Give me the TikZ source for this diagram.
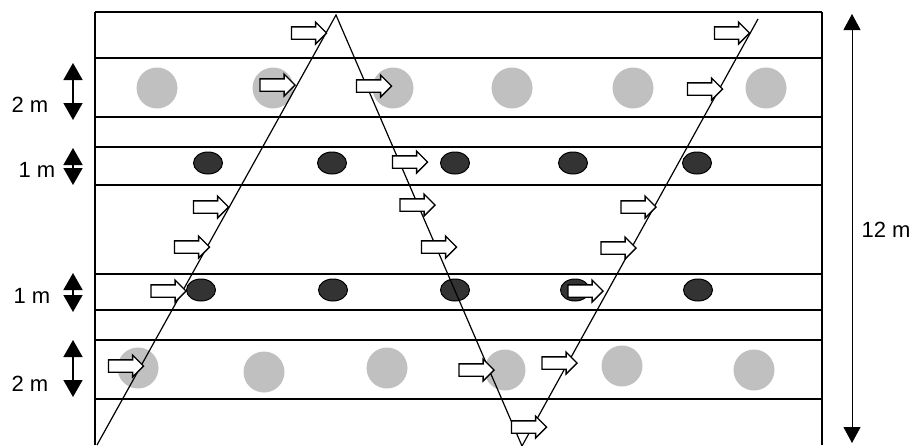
\documentclass[tikz,border=0pt]{standalone}
\usepackage{fontspec}
\setmainfont{Liberation Sans}
\usetikzlibrary{arrows.meta,shapes.arrows,shapes.geometric}
\definecolor{lightcrown}{HTML}{C0C0C0}
\definecolor{darkcrown}{HTML}{333333}

\begin{document}
\begin{tikzpicture}[x=1pt,y=-1pt,
  row/.style={line width=2.8pt},
  bigtree/.style={circle,fill=lightcrown,minimum size=41pt,inner sep=0pt},
  smalltree/.style={ellipse,draw,line width=1pt,fill=darkcrown,minimum width=29pt,minimum height=22pt,inner sep=0pt},
  flow/.style={single arrow,draw,fill=white,line width=1.3pt,minimum height=35pt,
    inner xsep=0pt,inner ysep=5.5pt,single arrow head extend=4.8pt},
  path/.style={line width=1.2pt},
  dim/.style={line width=1.6pt,{Triangle[length=17pt,width=19pt]}-{Triangle[length=17pt,width=19pt]}},
  lbl/.style={font=\fontsize{22}{24}\selectfont,inner sep=0pt}]
\useasboundingbox (0,0) rectangle (913,445);

% rows of the plot
\draw[row] (95,12) -- (95,445);
\draw[row] (822,12) -- (822,445);
\draw[row] (95,12) -- (822,12);
\draw[row] (95,58) -- (822,58);
\draw[row] (95,117) -- (822,117);
\draw[row] (95,147) -- (822,147);
\draw[row] (95,185) -- (822,185);
\draw[row] (95,274) -- (822,274);
\draw[row] (95,310) -- (822,310);
\draw[row] (95,340) -- (822,340);
\draw[row] (95,399) -- (822,399);

% big crowns
\node[bigtree] (g1) at (157,88) {};
\node[bigtree] (g2) at (273,88) {};
\node[bigtree] (g3) at (393,88) {};
\node[bigtree] (g4) at (512,88) {};
\node[bigtree] (g5) at (633,88) {};
\node[bigtree] (g6) at (766,88) {};
\node[bigtree] (g7) at (138,368) {};
\node[bigtree] (g8) at (264,372) {};
\node[bigtree] (g9) at (387,368) {};
\node[bigtree] (g10) at (505,370) {};
\node[bigtree] (g11) at (622,366) {};
\node[bigtree] (g12) at (754,370) {};

% small crowns
\node[smalltree] (d1) at (208,163) {};
\node[smalltree] (d2) at (332,163) {};
\node[smalltree] (d3) at (455,163) {};
\node[smalltree] (d4) at (573,163) {};
\node[smalltree] (d5) at (697,163) {};
\node[smalltree] (d6) at (201,290) {};
\node[smalltree] (d7) at (333,290) {};
\node[smalltree] (d8) at (455,290) {};
\node[smalltree] (d9) at (575,290) {};
\node[smalltree] (d10) at (698,290) {};

% zigzag of the sprayer
\coordinate (z0) at (97,445);
\coordinate (z1) at (336,15);
\coordinate (z2) at (522,446);
\coordinate (z3) at (758,19);
\draw[path] (z0) -- (z1) -- (z2) -- (z3);

% spray arrows
\node[flow] (f1) at (306,33) {};
\node[flow] (f2) at (274.5,85) {};
\node[flow] (f3) at (371,86) {};
\node[flow] (f4) at (407,162) {};
\node[flow] (f5) at (414.5,205) {};
\node[flow] (f6) at (208,207) {};
\node[flow] (f7) at (729,33) {};
\node[flow] (f8) at (702,89) {};
\node[flow] (f9) at (635.5,207) {};
\node[flow] (f10) at (189,247) {};
\node[flow] (f11) at (165.5,291) {};
\node[flow] (f12) at (123,366) {};
\node[flow] (f13) at (436,247) {};
\node[flow] (f14) at (615.5,248) {};
\node[flow] (f15) at (582.5,291) {};
\node[flow] (f16) at (473.5,370) {};
\node[flow] (f17) at (556.5,363) {};
\node[flow] (f18) at (526,427) {};

% widths
\coordinate (w1a) at (73,63);
\coordinate (w1b) at (73,120);
\draw[dim] (w1a) -- (w1b);
\node[lbl] (l1) at (30,105) {2 m};
\coordinate (w2a) at (73,148);
\coordinate (w2b) at (73,185);
\draw[dim] (w2a) -- (w2b);
\node[lbl] (l2) at (37,170) {1 m};
\coordinate (w3a) at (73,273);
\coordinate (w3b) at (73,312);
\draw[dim] (w3a) -- (w3b);
\node[lbl] (l3) at (32,296) {1 m};
\coordinate (w4a) at (73,340);
\coordinate (w4b) at (73,397);
\draw[dim] (w4a) -- (w4b);
\node[lbl] (l4) at (30,384) {2 m};

% total
\coordinate (h1) at (852,14);
\coordinate (h2) at (852,443);
\draw[line width=1pt,{Triangle[length=16pt,width=17pt]}-{Triangle[length=16pt,width=17pt]}] (h1) -- (h2);
\node[lbl] (l5) at (886,230) {12 m};
\end{tikzpicture}
\end{document}
